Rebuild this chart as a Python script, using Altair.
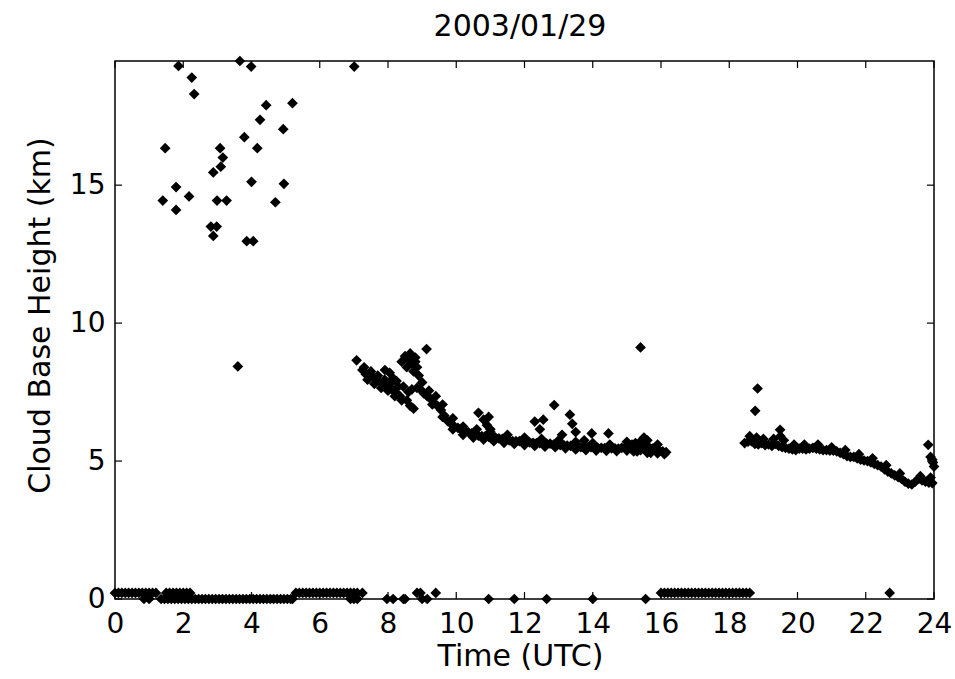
import altair as alt
import pandas as pd

FONT = "DejaVu Sans"
TITLE = "2003/01/29"

# isolated high returns (hour, km)
high_h = [1.86, 2.25, 2.32, 3.66, 3.99, 7.01, 4.43, 5.20, 4.25, 4.93, 3.79, 1.47, 3.08, 4.17,
          3.16, 3.10, 2.88, 4.00, 4.95, 1.79, 2.17, 1.40, 2.99, 3.27, 4.70, 1.79, 2.81, 2.98,
          2.88, 3.86, 4.05, 3.60, 15.40]
high_km = [19.32, 18.90, 18.30, 19.50, 19.30, 19.30, 17.90, 17.97, 17.37, 17.03, 16.74, 16.34,
           16.34, 16.34, 16.00, 15.67, 15.46, 15.12, 15.05, 14.93, 14.59, 14.44, 14.44, 14.44,
           14.38, 14.10, 13.50, 13.50, 13.16, 12.97, 12.97, 8.43, 9.12]

# main cloud layer, 7-16.3 UTC
band1_h = [7.08, 7.25, 7.35, 7.45, 7.55, 7.65, 7.75, 7.85, 7.95, 8.05, 8.15, 8.25, 8.35, 7.91,
           8.05, 8.15, 8.25, 8.40, 8.50, 8.55, 8.60, 8.70, 8.75, 8.80, 8.85, 8.90, 8.45, 8.55,
           8.65, 8.75, 8.60, 8.70, 8.85, 8.95, 9.05, 9.13, 9.15, 9.25, 9.35, 9.45, 9.55, 9.65,
           9.75, 9.85, 9.95, 10.05, 10.15, 10.25, 10.35, 10.45, 10.55, 10.65, 10.75, 10.85,
           10.95, 11.05, 11.15, 11.25, 11.35, 11.45, 11.55, 11.65, 11.75, 11.85, 11.95, 12.05,
           12.15, 12.25, 12.35, 12.45, 12.55, 12.65, 12.75, 12.85, 12.95, 13.05, 13.15, 13.25,
           13.35, 13.45, 13.55, 13.65, 13.75, 13.85, 13.95, 14.05, 14.15, 14.25, 14.35, 14.45,
           14.55, 14.65, 14.75, 14.85, 14.95, 15.05, 15.15, 15.25, 15.35, 15.45, 15.55, 15.65,
           15.75, 15.85, 15.95, 16.05, 16.15, 15.20, 15.40, 15.60, 15.50, 15.30, 15.70, 15.90]
band1_km = [8.65, 8.30, 8.15, 8.10, 8.05, 7.95, 7.90, 7.80, 7.75, 7.65, 7.55, 7.45, 7.35, 8.30,
            8.20, 8.00, 7.90, 8.60, 8.80, 8.40, 8.70, 8.55, 8.25, 8.75, 8.40, 8.10, 7.70, 7.20,
            7.00, 6.90, 7.50, 7.60, 7.65, 7.60, 7.45, 9.06, 7.35, 7.25, 7.10, 7.00, 6.85, 6.65,
            6.45, 6.35, 6.25, 6.20, 6.12, 6.07, 6.05, 6.00, 5.95, 5.92, 5.90, 5.90, 5.88, 5.90,
            5.85, 5.82, 5.80, 5.78, 5.75, 5.72, 5.72, 5.72, 5.70, 5.70, 5.68, 5.66, 5.65, 5.65,
            5.64, 5.63, 5.63, 5.60, 5.60, 5.58, 5.58, 5.56, 5.55, 5.55, 5.52, 5.50, 5.48, 5.50,
            5.50, 5.50, 5.48, 5.48, 5.47, 5.47, 5.46, 5.46, 5.45, 5.48, 5.50, 5.55, 5.60, 5.65,
            5.65, 5.60, 5.55, 5.50, 5.45, 5.40, 5.38, 5.35, 5.32, 5.35, 5.40, 5.75, 5.80, 5.45,
            5.30, 5.60]

# upper edge of the main layer and spurs above it
band1_top_h = [9.60, 9.90, 10.20, 10.60, 11.00, 11.50, 12.00, 12.50, 13.00, 13.50, 14.00,
               14.50, 15.00, 15.50, 10.65, 10.80, 10.95, 10.90, 11.00, 12.30, 12.45, 12.55,
               12.87, 13.10, 13.33, 13.40, 13.50, 13.97, 14.46, 13.75,
               7.30, 7.50, 7.70, 7.90, 8.10, 8.30, 9.00, 9.20, 9.40, 8.65, 8.80]
band1_top_km = [7.05, 6.55, 6.25, 6.15, 6.05, 5.95, 5.85, 5.80, 5.75, 5.70, 5.65, 5.60, 5.70,
                5.85, 6.75, 6.50, 6.60, 6.30, 6.15, 6.43, 6.15, 6.50, 7.03, 5.95, 6.68, 6.35,
                6.05, 6.00, 6.00, 5.75,
                8.40, 8.25, 8.10, 7.95, 7.85, 7.70, 7.85, 7.55, 7.35, 8.90, 8.60]

# lower edge of the main layer
band1_low_h = [7.40, 7.60, 7.80, 8.00, 8.20, 8.40, 9.30, 9.60, 9.90, 10.20, 10.50, 10.80, 11.10,
               11.40, 11.70, 12.00, 12.30, 12.60, 12.90, 13.20, 13.50, 13.80, 14.10, 14.40,
               14.70, 15.00, 15.30, 15.60, 15.90, 16.10]
band1_low_km = [7.95, 7.80, 7.65, 7.55, 7.35, 7.20, 7.05, 6.60, 6.15, 5.95, 5.85, 5.78, 5.72,
                5.66, 5.62, 5.58, 5.55, 5.52, 5.50, 5.46, 5.42, 5.40, 5.38, 5.37, 5.36, 5.38,
                5.35, 5.30, 5.28, 5.25]

# evening cloud layer, 18.4-24 UTC
band2_h = [18.45, 18.55, 18.65, 18.75, 18.85, 18.95, 19.05, 19.15, 19.25, 19.35, 19.45, 19.55,
           19.65, 19.75, 19.85, 19.95, 20.05, 20.15, 20.25, 20.35, 20.45, 20.55, 20.65, 20.75,
           20.85, 20.95, 21.05, 21.15, 21.25, 21.35, 21.45, 21.55, 21.65, 21.75, 21.85, 21.95,
           22.05, 22.15, 22.25, 22.35, 22.45, 22.55, 22.65, 22.75, 22.85, 22.95, 23.05, 23.15,
           23.25, 23.35, 23.45, 23.55, 23.65, 23.75, 23.85, 23.95,
           18.60, 18.80, 19.00, 19.30, 19.50, 19.49, 19.60, 19.90, 20.20, 20.60, 21.00, 21.40,
           21.80, 22.20, 22.60, 23.00, 23.60, 23.90,
           18.83, 18.76, 23.83, 23.95, 24.00, 23.90, 23.97]
band2_km = [5.65, 5.70, 5.72, 5.62, 5.60, 5.65, 5.58, 5.60, 5.55, 5.62, 5.55, 5.50, 5.48, 5.45,
            5.42, 5.40, 5.45, 5.45, 5.42, 5.45, 5.48, 5.45, 5.42, 5.40, 5.40, 5.38, 5.38, 5.35,
            5.30, 5.25, 5.18, 5.15, 5.15, 5.10, 5.05, 5.02, 5.00, 4.95, 4.90, 4.85, 4.80, 4.70,
            4.62, 4.55, 4.48, 4.42, 4.35, 4.25, 4.18, 4.15, 4.25, 4.35, 4.30, 4.25, 4.22, 4.20,
            5.90, 5.85, 5.80, 5.80, 5.90, 6.13, 5.75, 5.60, 5.60, 5.60, 5.50, 5.40, 5.25, 5.10,
            4.85, 4.55, 4.45, 4.40,
            7.63, 6.82, 5.59, 5.05, 4.80, 5.15, 4.95]

# near-ground returns: upper row (about 0.22 km) and lower row (0 km)
ground_upper_h = [0.0, 0.1, 0.2, 0.3, 0.4, 0.5, 0.6, 0.7, 0.8, 0.9, 1.0, 1.1, 1.2, 1.5, 1.6,
                  1.7, 1.8, 1.9, 2.0, 2.1, 2.2, 5.3, 5.4, 5.5, 5.6, 5.7, 5.8, 5.9, 6.0, 6.1,
                  6.2, 6.3, 6.4, 6.5, 6.6, 6.7, 6.8, 6.9, 7.0, 7.1, 7.25, 8.85, 8.95, 9.4,
                  16.0, 16.1, 16.2, 16.3, 16.4, 16.5, 16.6, 16.7, 16.8, 16.9, 17.0, 17.1, 17.2,
                  17.3, 17.4, 17.5, 17.6, 17.7, 17.8, 17.9, 18.0, 18.1, 18.2, 18.3, 18.4, 18.5,
                  18.6, 22.7]
ground_upper_km = 0.22
ground_lower_h = [0.85, 1.0, 1.35, 1.45, 1.55, 1.65, 1.75, 1.85, 1.95, 2.05, 2.15, 2.25, 2.35,
                  2.45, 2.55, 2.65, 2.75, 2.85, 2.95, 3.05, 3.15, 3.25, 3.35, 3.45, 3.55, 3.65,
                  3.75, 3.85, 3.95, 4.05, 4.15, 4.25, 4.35, 4.45, 4.55, 4.65, 4.75, 4.85, 4.95,
                  5.05, 5.15, 5.2, 6.9, 7.0, 7.1, 7.97, 8.15, 8.45, 8.5, 9.0, 9.15, 10.95,
                  11.7, 12.65, 14.0, 15.55]
ground_lower_km = 0.0

x_ticks = [0, 2, 4, 6, 8, 10, 12, 14, 16, 18, 20, 22, 24]
y_ticks = [0, 5, 10, 15]

hours = (high_h + band1_h + band1_top_h + band1_low_h + band2_h + ground_upper_h
         + ground_lower_h)
kms = (high_km + band1_km + band1_top_km + band1_low_km + band2_km
       + [ground_upper_km] * len(ground_upper_h) + [ground_lower_km] * len(ground_lower_h))
df = pd.DataFrame({"hour": hours, "km": kms})

W, H = 819, 538
xscale = alt.Scale(domain=[0, 24], nice=False, zero=False)
yscale = alt.Scale(domain=[0, 19.5], nice=False, zero=False)

points = alt.Chart(df).mark_point(
    shape="diamond", filled=True, size=115, color="black", opacity=1, clip=False
).encode(
    x=alt.X("hour:Q", scale=xscale, title="Time (UTC)",
            axis=alt.Axis(values=x_ticks, ticks=False, domain=False, grid=False,
                          labelFontSize=28, labelFont=FONT, labelColor="black",
                          labelPadding=11, labelFlush=False,
                          titleFont=FONT, titleFontSize=30, titleFontWeight="normal",
                          titleColor="black", titlePadding=3, titleX=405)),
    y=alt.Y("km:Q", scale=yscale, title="Cloud Base Height (km)",
            axis=alt.Axis(values=y_ticks, ticks=False, domain=False, grid=False,
                          labelFontSize=28, labelFont=FONT, labelColor="black",
                          labelPadding=10, labelFlush=False,
                          titleFont=FONT, titleFontSize=30, titleFontWeight="normal",
                          titleColor="black", titlePadding=14, titleY=254)),
)

xt = pd.DataFrame({"t": x_ticks})
yt = pd.DataFrame({"t": y_ticks})
TL = 7
tick_bottom = alt.Chart(xt).mark_rule(color="black", strokeWidth=1.2).encode(
    x=alt.X("t:Q", scale=xscale), y=alt.value(H), y2=alt.value(H - TL))
tick_top = alt.Chart(xt).mark_rule(color="black", strokeWidth=1.2).encode(
    x=alt.X("t:Q", scale=xscale), y=alt.value(0), y2=alt.value(TL))
tick_left = alt.Chart(yt).mark_rule(color="black", strokeWidth=1.2).encode(
    y=alt.Y("t:Q", scale=yscale), x=alt.value(0), x2=alt.value(TL))
tick_right = alt.Chart(yt).mark_rule(color="black", strokeWidth=1.2).encode(
    y=alt.Y("t:Q", scale=yscale), x=alt.value(W), x2=alt.value(W - TL))

title_text = alt.Chart(pd.DataFrame({"label": [TITLE]})).mark_text(
    font=FONT, fontSize=30, color="black", align="center", baseline="alphabetic"
).encode(text="label:N", x=alt.value(405), y=alt.value(-25))

chart = alt.layer(tick_bottom, tick_top, tick_left, tick_right, points, title_text).properties(
    width=W, height=H,
    padding={"left": 115, "top": 61, "right": 21, "bottom": 80},
    autosize=alt.AutoSizeParams(type="none"),
    background="white",
).configure_view(stroke="black", strokeWidth=1.5)

chart.save("out.html", embed_options={"renderer": "svg", "actions": False})
